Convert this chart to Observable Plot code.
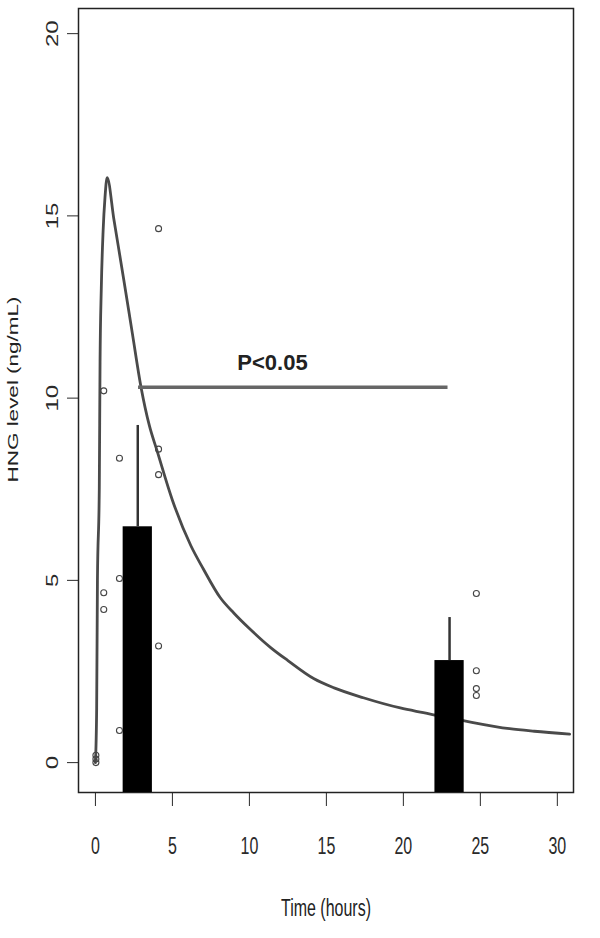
<!DOCTYPE html>
<html><head><meta charset="utf-8">
<script src="https://cdn.jsdelivr.net/npm/d3@7"></script>
<script src="https://cdn.jsdelivr.net/npm/@observablehq/plot@0.6"></script>
<style>body{margin:0;background:#fff}</style>
</head><body><div id="chart"></div>
<script>
// ---- data ----
const curveT = [0, 0.08, 0.13, 0.25, 0.3, 0.38, 0.5, 0.62, 0.76, 1.2, 1.84, 2.4, 2.97, 3.5, 4.0, 5.0, 6.2, 7.0, 8.1, 9.0, 10.0, 11.4, 12.5, 14.2, 15.5, 17.4, 19.8, 21.3, 23.9, 26.9, 28.5, 30.8];
const curveV = [0, 1.5, 5.0, 7.5, 11.0, 13.0, 14.6, 15.5, 16.05, 14.9, 13.25, 11.77, 10.28, 9.25, 8.56, 7.2, 5.95, 5.32, 4.53, 4.1, 3.68, 3.15, 2.8, 2.3, 2.05, 1.78, 1.5, 1.37, 1.15, 0.93, 0.86, 0.78];
const pointT = [0.03, 0.03, 0.03, 0.54, 0.54, 0.54, 1.56, 1.56, 1.56, 4.1, 4.1, 4.1, 4.1, 24.74, 24.74, 24.74, 24.74];
const pointV = [0.0, 0.1, 0.2, 10.2, 4.66, 4.2, 8.35, 5.05, 0.88, 14.65, 8.6, 7.9, 3.2, 4.64, 2.52, 2.03, 1.84];
const barT = [2.75, 23.0];
const barMean = [6.47, 2.8];
const barUpper = [9.25, 3.98];
const xTicks = [0, 5, 10, 15, 20, 25, 30];
const yTicks = [0, 5, 10, 15, 20];
const xTitle = "Time (hours)";
const yTitle = "HNG level (ng/mL)";
const pLabel = "P<0.05";
const pStart = 2.8, pEnd = 22.9, pLevel = 10.3, pLabelT = 11.5;

// ---- build tables ----
const curve = curveT.map((t, i) => ({t, v: curveV[i]}));
const points = pointT.map((t, i) => ({t, v: pointV[i]}));
const bars = barT.map((t, i) => ({t, mean: barMean[i], upper: barUpper[i]}));
const xDomain = [-1.1, 31.05];
const yDomain = [-0.82, 20.69];
const halfW = 0.95;
const stretch = 1.5;

const svg = Plot.plot({
  width: 600,
  height: 938,
  marginLeft: 78,
  marginRight: 27,
  marginTop: 8,
  marginBottom: 146,
  style: {fontSize: "16px", fontFamily: "Liberation Sans, Arial, sans-serif", color: "#2a2a2a", background: "#fff"},
  x: {domain: xDomain, ticks: xTicks, tickSize: 14, tickPadding: 33, label: null},
  y: {domain: yDomain, ticks: yTicks, tickSize: 11, tickPadding: 10, tickRotate: -90, label: null},
  marks: [
    Plot.frame({stroke: "#222", strokeWidth: 1.5}),
    Plot.line(curve, {x: "t", y: "v", stroke: "#4a4a4a", strokeWidth: 2.8, curve: "monotone-x"}),
    Plot.ruleY([pLevel], {x1: pStart, x2: pEnd, stroke: "#666", strokeWidth: 3.5}),
    Plot.rect(bars, {x1: d => d.t - halfW, x2: d => d.t + halfW, y1: yDomain[0], y2: "mean", fill: "black"}),
    Plot.ruleX(bars, {x: "t", y1: "mean", y2: "upper", stroke: "#333", strokeWidth: 2.5}),
    Plot.dot(points, {x: "t", y: "v", r: 3, stroke: "#444", strokeWidth: 1.1, fill: "none"}),
    Plot.text([pLabel], {x: pLabelT, y: pLevel, text: d => d, dy: -24, fontSize: 22, fontWeight: "bold", fill: "#222", fontFamily: "Liberation Sans, Arial, sans-serif"}),
    Plot.text([xTitle], {frameAnchor: "bottom", text: d => d, dy: 116, lineAnchor: "middle", fontSize: 16, fill: "#222"}),
    Plot.text([yTitle], {frameAnchor: "left", text: d => d, rotate: -90, textAnchor: "middle", lineAnchor: "middle", dx: -65, dy: -11, fontSize: 15, fill: "#222"})
  ]
});
document.getElementById("chart").append(svg);

// the reference image is stretched vertically: stretch axis texts about their centres
const pt = svg.createSVGPoint();
svg.querySelectorAll("text").forEach(t => {
  if (t.textContent === pLabel) return;
  const parent = t.parentNode;
  const r = t.getBoundingClientRect();
  pt.x = r.x + r.width / 2; pt.y = r.y + r.height / 2;
  const p = pt.matrixTransform(parent.getScreenCTM().inverse());
  const g = document.createElementNS("http://www.w3.org/2000/svg", "g");
  g.setAttribute("transform", `translate(0,${p.y}) scale(1,${stretch}) translate(0,${-p.y})`);
  parent.insertBefore(g, t);
  g.appendChild(t);
});
</script>
</body></html>
